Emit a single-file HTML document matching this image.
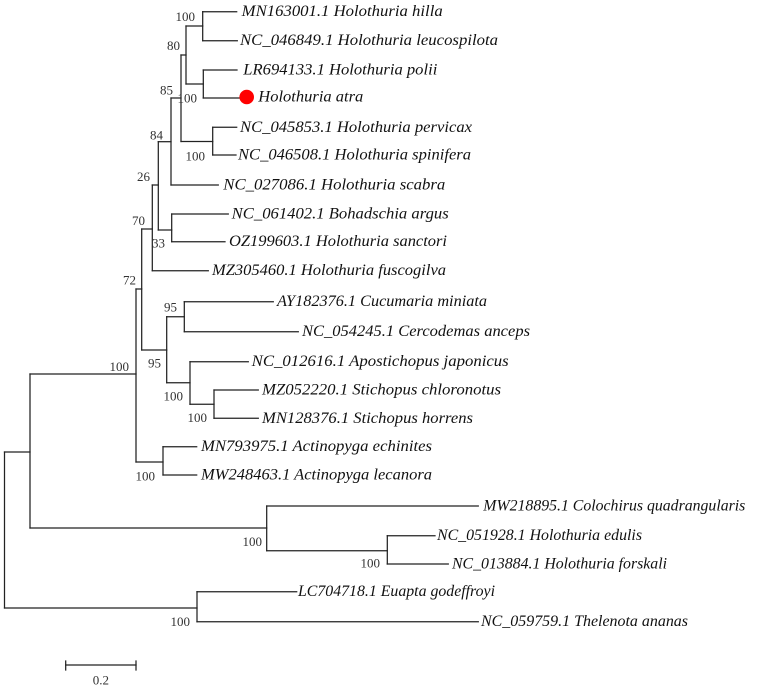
<!DOCTYPE html>
<html><head><meta charset="utf-8"><style>
html,body{margin:0;padding:0;background:#fff;width:775px;height:691px;overflow:hidden}
svg{display:block}
.l{stroke:#222;stroke-width:1.25;fill:none;stroke-linecap:square}
.t{font-family:"Liberation Serif",serif;font-style:italic;font-size:16px;fill:#111}
.b{font-family:"Liberation Serif",serif;font-size:13px;fill:#333;text-anchor:end}
</style></head><body>
<svg width="775" height="691" viewBox="0 0 775 691" xmlns="http://www.w3.org/2000/svg">
<g class="l">
<path d="M4.5 452V608"/>
<path d="M4.5 452H30"/>
<path d="M4.5 608H197"/>
<path d="M197 591.7V621.7"/>
<path d="M197 591.7H296.7"/>
<path d="M197 621.7H478.3"/>
<path d="M30 374V528"/>
<path d="M30 374H136"/>
<path d="M30 528H266.7"/>
<path d="M266.7 506V550.7"/>
<path d="M266.7 506H478.3"/>
<path d="M266.7 550.7H387.3"/>
<path d="M387.3 535.7V564"/>
<path d="M387.3 535.7H435"/>
<path d="M387.3 564H448.3"/>
<path d="M136 289V462"/>
<path d="M136 289H141.7"/>
<path d="M136 462H163"/>
<path d="M163 446.7V475"/>
<path d="M163 446.7H196.7"/>
<path d="M163 475H196.7"/>
<path d="M141.7 229V350"/>
<path d="M141.7 229H152.3"/>
<path d="M141.7 350H166.7"/>
<path d="M166.7 316.7V382.7"/>
<path d="M166.7 316.7H184.3"/>
<path d="M166.7 382.7H190"/>
<path d="M184.3 301.7V331.7"/>
<path d="M184.3 301.7H273.3"/>
<path d="M184.3 331.7H298.3"/>
<path d="M190 361.7V404.3"/>
<path d="M190 361.7H248.3"/>
<path d="M190 404.3H214"/>
<path d="M214 390V418.3"/>
<path d="M214 390H258.3"/>
<path d="M214 418.3H258.3"/>
<path d="M152.3 185V270.7"/>
<path d="M152.3 185H158.3"/>
<path d="M152.3 270.7H208.3"/>
<path d="M158.3 141.7V230"/>
<path d="M158.3 141.7H171"/>
<path d="M158.3 230H171.7"/>
<path d="M171.7 214V241.7"/>
<path d="M171.7 214H228.3"/>
<path d="M171.7 241.7H225"/>
<path d="M171 98V185"/>
<path d="M171 185H218.3"/>
<path d="M171 98H181"/>
<path d="M181 55V141.5"/>
<path d="M181 55H186"/>
<path d="M181 141.5H212.7"/>
<path d="M212.7 127.3V155"/>
<path d="M212.7 127.3H236.7"/>
<path d="M212.7 155H236"/>
<path d="M186 26V84"/>
<path d="M186 26H202.7"/>
<path d="M186 84H203.3"/>
<path d="M202.7 11.7V40.7"/>
<path d="M202.7 11.7H236.7"/>
<path d="M202.7 40.7H237.3"/>
<path d="M203.3 70V98"/>
<path d="M203.3 70H237"/>
<path d="M203.3 98H239"/>
<path d="M65.7 665H136"/>
<path d="M65.7 661V670"/>
<path d="M136 661V670"/>
</g>
<circle cx="246.7" cy="97" r="7.3" fill="#f00"/>
<g class="t">
<text x="241.7" y="16" textLength="201" lengthAdjust="spacingAndGlyphs">MN163001.1 Holothuria hilla</text>
<text x="240" y="45.2" textLength="258" lengthAdjust="spacingAndGlyphs">NC_046849.1 Holothuria leucospilota</text>
<text x="243.3" y="74.5" textLength="194" lengthAdjust="spacingAndGlyphs">LR694133.1 Holothuria polii</text>
<text x="258.3" y="101.5" textLength="105" lengthAdjust="spacingAndGlyphs">Holothuria atra</text>
<text x="240" y="131.8" textLength="232" lengthAdjust="spacingAndGlyphs">NC_045853.1 Holothuria pervicax</text>
<text x="238" y="159.5" textLength="233" lengthAdjust="spacingAndGlyphs">NC_046508.1 Holothuria spinifera</text>
<text x="223.3" y="189.5" textLength="222" lengthAdjust="spacingAndGlyphs">NC_027086.1 Holothuria scabra</text>
<text x="231.7" y="218.5" textLength="217" lengthAdjust="spacingAndGlyphs">NC_061402.1 Bohadschia argus</text>
<text x="229" y="246.2" textLength="218" lengthAdjust="spacingAndGlyphs">OZ199603.1 Holothuria sanctori</text>
<text x="212" y="275.2" textLength="234" lengthAdjust="spacingAndGlyphs">MZ305460.1 Holothuria fuscogilva</text>
<text x="277" y="306.2" textLength="210" lengthAdjust="spacingAndGlyphs">AY182376.1 Cucumaria miniata</text>
<text x="302" y="336.2" textLength="228" lengthAdjust="spacingAndGlyphs">NC_054245.1 Cercodemas anceps</text>
<text x="251.7" y="366.2" textLength="257" lengthAdjust="spacingAndGlyphs">NC_012616.1 Apostichopus japonicus</text>
<text x="262" y="394.5" textLength="239" lengthAdjust="spacingAndGlyphs">MZ052220.1 Stichopus chloronotus</text>
<text x="262" y="422.8" textLength="211" lengthAdjust="spacingAndGlyphs">MN128376.1 Stichopus horrens</text>
<text x="201" y="451.2" textLength="231" lengthAdjust="spacingAndGlyphs">MN793975.1 Actinopyga echinites</text>
<text x="201" y="479.5" textLength="231" lengthAdjust="spacingAndGlyphs">MW248463.1 Actinopyga lecanora</text>
<text x="483.3" y="510.5" textLength="262" lengthAdjust="spacingAndGlyphs">MW218895.1 Colochirus quadrangularis</text>
<text x="437" y="540.2" textLength="205" lengthAdjust="spacingAndGlyphs">NC_051928.1 Holothuria edulis</text>
<text x="452" y="568.5" textLength="215" lengthAdjust="spacingAndGlyphs">NC_013884.1 Holothuria forskali</text>
<text x="298" y="596.2" textLength="197" lengthAdjust="spacingAndGlyphs">LC704718.1 Euapta godeffroyi</text>
<text x="481" y="626.2" textLength="207" lengthAdjust="spacingAndGlyphs">NC_059759.1 Thelenota ananas</text>
</g>
<g class="b">
<text x="195" y="21">100</text>
<text x="180" y="50">80</text>
<text x="197" y="102.5">100</text>
<text x="173" y="94.5">85</text>
<text x="205" y="160.5">100</text>
<text x="163" y="139.5">84</text>
<text x="150" y="181">26</text>
<text x="145" y="225">70</text>
<text x="165" y="247.5">33</text>
<text x="136" y="284.5">72</text>
<text x="177" y="311.5">95</text>
<text x="161" y="367.5">95</text>
<text x="129" y="371">100</text>
<text x="183" y="400.5">100</text>
<text x="207" y="422">100</text>
<text x="155" y="480.5">100</text>
<text x="262" y="546">100</text>
<text x="380" y="567.5">100</text>
<text x="190" y="626">100</text>
<text x="109" y="684.5">0.2</text>
</g>
</svg>
</body></html>
